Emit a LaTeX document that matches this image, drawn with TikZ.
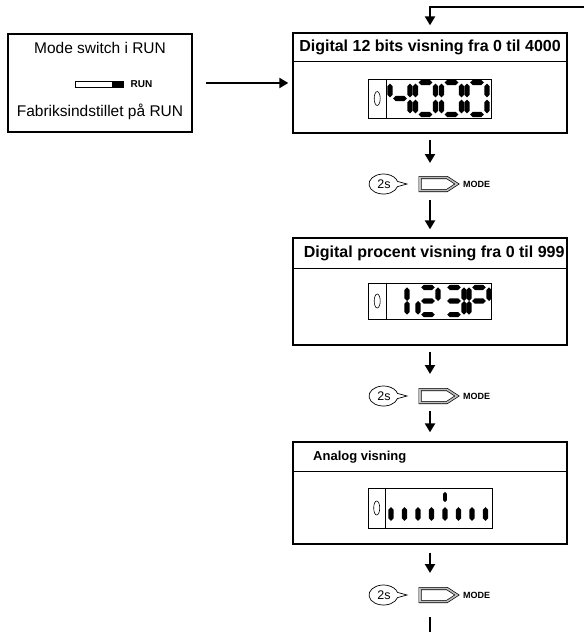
\documentclass[tikz,border=0pt]{standalone}
\usepackage{fontspec}
\setmainfont{Liberation Sans}
\usetikzlibrary{positioning,arrows.meta,calc}

% segments of a seven segment digit: dx/dy/angle
\def\lcdzero{0/-16/0,10/-8/90,10/8/90,0/16/0,-10/8/90,-10/-8/90}
\def\lcdfour{-10/-8/90,0/0/0,10/-8/90,10/8/90}
\def\lcdone{10/-8/90,10/8/90}
\def\lcdtwo{0/-16/0,10/-8/90,0/0/0,-10/8/90,0/16/0}
\def\lcdthree{0/-16/0,10/-8/90,0/0/0,10/8/90,0/16/0}
\def\lcdpee{0/-16/0,10/-8/90,0/0/0,-10/-8/90,-10/8/90}

\newcommand{\lcddigit}[2]{%
  \foreach \dx/\dy/\ang in #2
    \pic[rotate=\ang] at ($(#1)+(\dx,\dy)$) {lcdseg};}

\tikzset{
  lcdseg/.pic={\fill (-6.8,0) -- (-4.2,-2.6) -- (4.2,-2.6) -- (6.8,0)
                 -- (4.2,2.6) -- (-4.2,2.6) -- cycle;}
}

\begin{document}
\begin{tikzpicture}[
  x=1pt, y=-1pt,
  >={Triangle[length=9pt,width=10pt]},
  panel/.style={draw, line width=1.3pt, minimum width=274pt, inner sep=0pt},
  lcd/.style={draw, line width=0.6pt, minimum width=123pt, inner sep=0pt},
  bodytxt/.style={font=\fontsize{15.5}{18}\selectfont, inner sep=1pt},
  titletxt/.style={font=\fontsize{16}{19}\selectfont\bfseries, inner sep=1pt},
  keytxt/.style={font=\fontsize{9}{10}\selectfont\bfseries, inner sep=0pt},
  bubbletxt/.style={font=\fontsize{12.5}{14}\selectfont, inner sep=0pt},
  bubble/.style={draw, line width=0.7pt, fill=white},
  keyshape/.style={draw, line width=0.7pt, double=black!25, double distance=1.6pt},
  switchbar/.style={draw, line width=0.9pt, minimum width=48pt, minimum height=6pt,
                    inner sep=0pt},
  flow/.style={->, line width=2.2pt},
  divider/.style={line width=0.8pt},
]
\useasboundingbox (0,0) rectangle (584,632);

% mode switch
\node[panel, minimum width=184pt, minimum height=98pt] (modebox) at (100,83) {};
\node[bodytxt] (modetitle) at (100,48) {Mode switch i RUN};
\node[switchbar] (sw) at (99,84) {};
\fill (sw.north east) rectangle ([xshift=-11pt]sw.south east);
\node[keytxt, font=\fontsize{10}{11}\selectfont\bfseries, right=7pt of sw] (swrun) {RUN};
\node[bodytxt] (factory) at (100,112) {Fabriksindstillet på RUN};

% digital 12 bits
\node[panel, minimum height=100pt] (box1) at (430,83) {};
\draw[divider] ([yshift=-29pt]box1.north west) -- ([yshift=-29pt]box1.north east);
\node[titletxt, minimum height=29pt, below=0pt of box1.north] (title1)
  {Digital 12 bits visning fra 0 til 4000};
\node[lcd, minimum height=39pt] (lcd1) at (430,98.5) {};
\draw[divider] ([xshift=18pt]lcd1.north west) -- ([xshift=18pt]lcd1.south west);
\draw[line width=0.6pt] ([xshift=9pt]lcd1.west) ellipse [x radius=3, y radius=7];
\lcddigit{400,98.5}{\lcdfour}
\lcddigit{425.5,98.5}{\lcdzero}
\lcddigit{451.5,98.5}{\lcdzero}
\lcddigit{477,98.5}{\lcdzero}

% digital procent
\node[panel, minimum height=107pt] (box2) at (430,291.5) {};
\draw[divider] ([yshift=-31pt]box2.north west) -- ([yshift=-31pt]box2.north east);
\node[titletxt, minimum height=31pt, anchor=north east] (title2)
  at ([xshift=-2pt]box2.north east) {Digital procent visning fra 0 til 999};
\node[lcd, minimum height=36pt] (lcd2) at (430,301) {};
\draw[divider] ([xshift=18pt]lcd2.north west) -- ([xshift=18pt]lcd2.south west);
\draw[line width=0.6pt] ([xshift=9pt]lcd2.west) ellipse [x radius=3, y radius=7];
\begin{scope}[shift={(0,301)}, yscale=0.85]
  \lcddigit{397,0}{\lcdone}
  \lcddigit{428,0}{\lcdtwo}
  \lcddigit{454,0}{\lcdthree}
  \lcddigit{479,0}{\lcdpee}
\end{scope}

% analog
\node[panel, minimum height=102pt] (box3) at (430,493) {};
\draw[divider] ([yshift=-30pt]box3.north west) -- ([yshift=-30pt]box3.north east);
\node[titletxt, font=\fontsize{13}{15}\selectfont\bfseries, anchor=west] (title3)
  at (312,457) {Analog visning};
\node[lcd, minimum width=124pt, minimum height=40pt] (lcd3) at (430,508) {};
\draw[divider] ([xshift=18pt]lcd3.north west) -- ([xshift=18pt]lcd3.south west);
\draw[line width=0.6pt] ([xshift=9pt]lcd3.west) ellipse [x radius=3, y radius=7];
\foreach \i in {0,...,7}
  \pic[rotate=90] at (391+13.5*\i,514) {lcdseg};
\pic[rotate=90, scale=0.75] at (445,497) {lcdseg};

% 2s + MODE keys
\foreach \n/\yy in {1/184, 2/396, 3/595} {
  \coordinate (b\n) at (384,\yy);
  \draw[bubble] ($(b\n)+(13.5,2.6)$)
    arc[start angle=15, end angle=345, x radius=14.5, y radius=10]
    -- ($(b\n)+(23,0)$) -- cycle;
  \node[bubbletxt] (s\n) at (b\n) {2s};
  \coordinate (k\n) at (420,\yy);
  \draw[keyshape] ($(k\n)+(0,-6.5)$) -- ++(27,0) -- ++(10,6.5)
    -- ++(-10,6.5) -- ++(-27,0) -- cycle;
  \node[keytxt, anchor=west] (m\n) at (463,\yy) {MODE};
}

% connectors
\coordinate (loopin) at (584,7);
\coordinate (a1) at (430,163);
\coordinate (a2) at (430,200);
\coordinate (a3) at (430,374);
\coordinate (a4) at (430,411);
\coordinate (a5) at (430,573);
\coordinate (a6) at (430,617);
\coordinate (loopout) at (430,632);

\draw[flow, shorten >=7pt] (loopin) -| (box1);
\draw[flow, shorten <=13pt, shorten >=4pt] (modebox) -- (box1);
\draw[flow, shorten <=6pt] (box1) -- (a1);
\draw[flow, shorten >=8pt] (a2) -- (box2);
\draw[flow, shorten <=6pt] (box2) -- (a3);
\draw[flow, shorten >=9pt] (a4) -- (box3);
\draw[flow, shorten <=8pt] (box3) -- (a5);
\draw[line width=2.2pt] (a6) -- (loopout);

\end{tikzpicture}
\end{document}
